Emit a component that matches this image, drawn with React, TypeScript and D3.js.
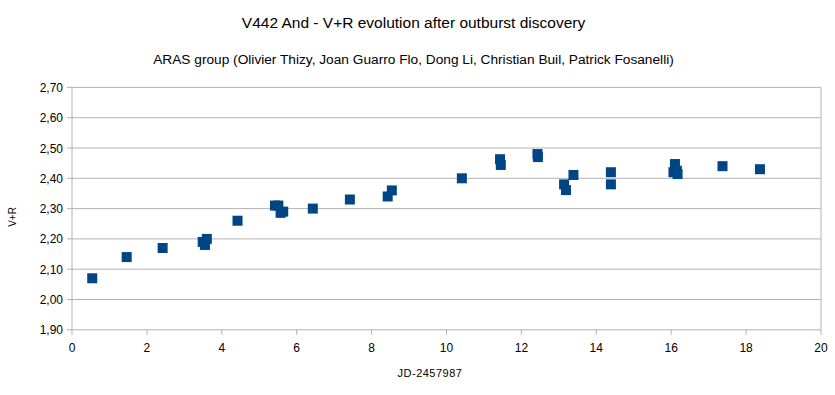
import React from "react";
import * as d3 from "d3";

const jd = [0.54, 1.46, 2.42, 3.49, 3.55, 3.6, 4.42, 5.42, 5.51, 5.57, 5.64, 6.43, 7.42, 8.43, 8.54, 10.41, 11.43, 11.45, 12.43, 12.44, 13.14, 13.19, 13.39, 14.39, 14.39, 16.06, 16.1, 16.15, 16.17, 17.37, 18.37];
const vr = [2.07, 2.14, 2.17, 2.19, 2.18, 2.2, 2.26, 2.31, 2.31, 2.286, 2.29, 2.3, 2.33, 2.34, 2.36, 2.4, 2.463, 2.444, 2.48, 2.47, 2.38, 2.361, 2.411, 2.42, 2.38, 2.42, 2.447, 2.425, 2.414, 2.44, 2.43];
const xTicks = [0, 2, 4, 6, 8, 10, 12, 14, 16, 18, 20];
const yTicks = [1.9, 2.0, 2.1, 2.2, 2.3, 2.4, 2.5, 2.6, 2.7];

const title = "V442 And - V+R evolution after outburst discovery";
const subtitle = "ARAS group (Olivier Thizy, Joan Guarro Flo, Dong Li, Christian Buil, Patrick Fosanelli)";

export default function App() {
  const W = 835, H = 395;
  const x = d3.scaleLinear().domain([0, 20]).range([72, 821]);
  const y = d3.scaleLinear().domain([1.9, 2.7]).range([329.8, 87.4]);
  const font = "'Liberation Sans', Arial, sans-serif";
  const ms = 10;
  return (
    <svg width={W} height={H} style={{ position: "absolute", left: 0, top: 0, background: "#fff" }} fontFamily={font}>
      <rect width={W} height={H} fill="#fff" />
      {yTicks.map((t) => (
        <line key={"g" + t} x1={x(0)} x2={x(20)} y1={y(t)} y2={y(t)} stroke="#b3b3b3" strokeWidth={1} />
      ))}
      <line x1={x(0)} x2={x(0)} y1={y(2.7)} y2={y(1.9)} stroke="#b3b3b3" strokeWidth={1} />
      <line x1={x(20)} x2={x(20)} y1={y(2.7)} y2={y(1.9)} stroke="#b3b3b3" strokeWidth={1} />
      {yTicks.map((t) => (
        <g key={"y" + t}>
          <line x1={x(0) - 5} x2={x(0)} y1={y(t)} y2={y(t)} stroke="#b3b3b3" />
          <text x={63} y={y(t) + 4.5} fontSize={12} textAnchor="end" fill="#000">
            {t.toFixed(2).replace(".", ",")}
          </text>
        </g>
      ))}
      {xTicks.map((t) => (
        <g key={"x" + t}>
          <line x1={x(t)} x2={x(t)} y1={y(1.9)} y2={y(1.9) + 5} stroke="#b3b3b3" />
          <text x={x(t)} y={352} fontSize={12} textAnchor="middle" fill="#000">
            {t}
          </text>
        </g>
      ))}
      {jd.map((d, i) => (
        <rect key={"p" + i} x={x(d) - ms / 2} y={y(vr[i]) - ms / 2} width={ms} height={ms} fill="#004586" />
      ))}
      <text x={413.5} y={28} fontSize={15.5} textAnchor="middle" fill="#000">{title}</text>
      <text x={413.5} y={64} fontSize={13.7} textAnchor="middle" fill="#000">{subtitle}</text>
      <text x={430} y={377} fontSize={11} letterSpacing={0.5} textAnchor="middle" fill="#000">JD-2457987</text>
      <text transform={`translate(16,217) rotate(-90)`} fontSize={10} textAnchor="middle" fill="#000">V+R</text>
    </svg>
  );
}
